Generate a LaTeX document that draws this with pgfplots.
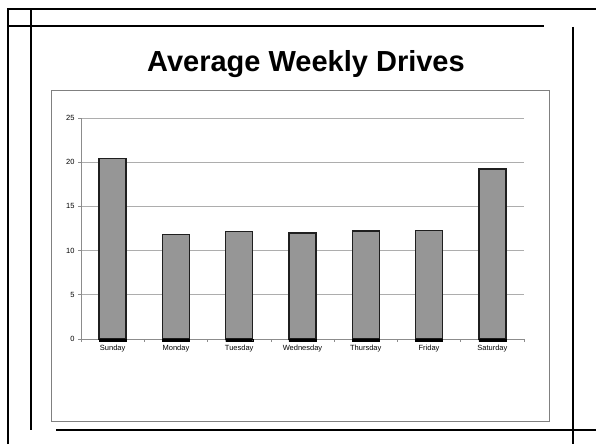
\documentclass[border=0pt]{standalone}
\usepackage{fontspec}
\setmainfont{Liberation Sans}
\usepackage{pgfplots}
\pgfplotsset{compat=1.18}
\begin{document}
\begin{tikzpicture}
\useasboundingbox (0pt,0pt) rectangle (596pt,444pt);
% slide frame lines
\draw[line width=1.8pt] (8pt,0pt) -- (8pt,435pt) -- (596pt,435pt);
\draw[line width=1.6pt] (31pt,435pt) -- (31pt,14pt);
\draw[line width=1.6pt] (8pt,418pt) -- (544pt,418pt);
\draw[line width=1.6pt] (573pt,417pt) -- (573pt,0pt);
\draw[line width=1.6pt] (56pt,14pt) -- (596pt,14pt);
% chart box
\draw[black!50, line width=0.8pt] (51pt,23pt) rectangle (549pt,354pt);
% title
\node[font=\bfseries\fontsize{29}{34}\selectfont, anchor=base] at (306pt,372pt) {Average Weekly Drives};
\begin{axis}[
  at={(81pt,105pt)}, anchor=south west,
  scale only axis, width=443pt, height=221pt,
  xmin=-0.5, xmax=6.5, ymin=0, ymax=25,
  xtick={0,...,6},
  xticklabels={Sunday,Monday,Tuesday,Wednesday,Thursday,Friday,Saturday},
  minor xtick={-0.5,0.5,...,6.5},
  ytick={0,5,...,25},
  major x tick style={draw=none},
  axis x line*=bottom, axis y line*=left,
  axis line style={black!45, line width=0.6pt},
  ymajorgrids, grid style={black!32, line width=0.6pt},
  tick align=outside, tick style={black!45, line width=0.6pt},
  major tick length=3pt, minor tick length=3pt,
  tick label style={font=\fontsize{7.5}{8.5}\selectfont},
  /pgf/number format/assume math mode=true,
  clip=false,
]
\addplot[ybar, bar width=27pt, bar shift=0pt, fill=black!41, draw=black!88, line width=1.4pt]
  coordinates {(0,20.4) (1,11.85) (2,12.15) (3,12.0) (4,12.2) (5,12.3) (6,19.25)};
\addplot[ybar, bar width=27pt, bar shift=0pt, fill=black, draw=black, line width=0.4pt]
  coordinates {(0,-0.3) (1,-0.3) (2,-0.3) (3,-0.3) (4,-0.3) (5,-0.3) (6,-0.3)};
\end{axis}
\end{tikzpicture}
\end{document}
